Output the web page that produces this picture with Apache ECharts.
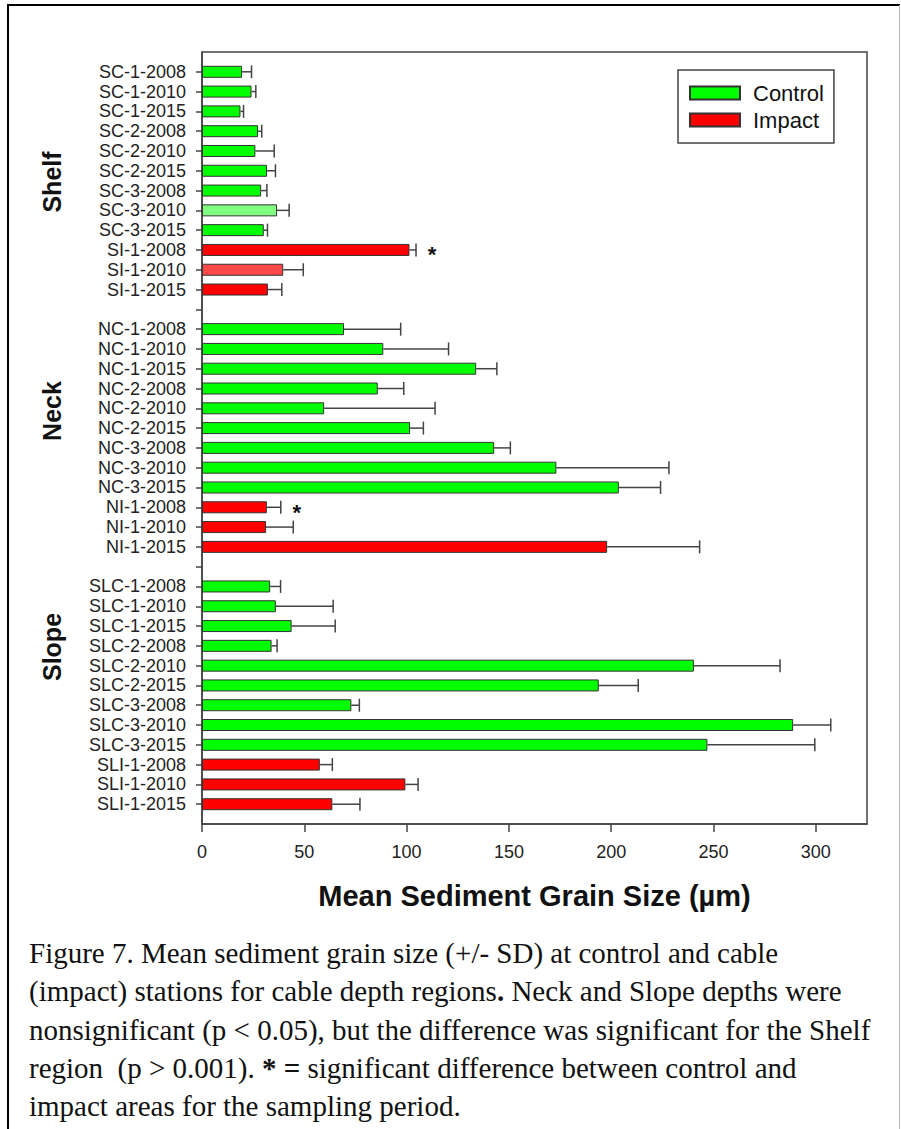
<!DOCTYPE html>
<html>
<head>
<meta charset="utf-8">
<script src="https://cdn.jsdelivr.net/npm/echarts@6/dist/echarts.min.js"></script>
<style>
  html, body { margin: 0; padding: 0; background: #fff; }
  #chart { width: 901px; height: 1129px; }
</style>
</head>
<body>
<div id="chart"></div>
<script>
// Stations per depth region (C = control, I = cable impact), with mean grain size and SD in µm
const shelfStations = ['SC-1-2008','SC-1-2010','SC-1-2015','SC-2-2008','SC-2-2010','SC-2-2015','SC-3-2008','SC-3-2010','SC-3-2015','SI-1-2008','SI-1-2010','SI-1-2015'];
const shelfMeans    = [19.6, 24.2, 18.8, 27.4, 26.1, 31.8, 28.9, 36.7, 30.2, 101.4, 39.7, 32.2];
const shelfSD       = [4.6, 2.1, 1.5, 1.8, 9.2, 4.1, 2.8, 5.9, 1.8, 3.2, 9.8, 6.8];

const neckStations  = ['NC-1-2008','NC-1-2010','NC-1-2015','NC-2-2008','NC-2-2010','NC-2-2015','NC-3-2008','NC-3-2010','NC-3-2015','NI-1-2008','NI-1-2010','NI-1-2015'];
const neckMeans     = [69.4, 88.6, 134.0, 85.9, 59.7, 101.7, 142.8, 173.2, 203.7, 31.7, 31.3, 198.0];
const neckSD        = [27.7, 31.9, 10.1, 12.7, 54.2, 6.5, 7.9, 55.0, 20.4, 6.8, 13.3, 45.2];

const slopeStations = ['SLC-1-2008','SLC-1-2010','SLC-1-2015','SLC-2-2008','SLC-2-2010','SLC-2-2015','SLC-3-2008','SLC-3-2010','SLC-3-2015','SLI-1-2008','SLI-1-2010','SLI-1-2015'];
const slopeMeans    = [33.3, 36.1, 43.8, 34.0, 240.4, 193.9, 73.0, 288.9, 247.0, 57.6, 99.4, 63.7];
const slopeSD       = [5.1, 28.0, 21.3, 2.7, 42.1, 19.3, 3.9, 18.4, 52.5, 6.1, 6.2, 13.5];

const impactStations = ['SI-1-2008','SI-1-2010','SI-1-2015','NI-1-2008','NI-1-2010','NI-1-2015','SLI-1-2008','SLI-1-2010','SLI-1-2015'];
const significant    = ['SI-1-2008','NI-1-2008'];   // marked with *
const paleBars       = ['SC-3-2010','SI-1-2010'];   // drawn in a lighter shade

const regionNames = ['Shelf', 'Neck', 'Slope'];
const xTicks = [0, 50, 100, 150, 200, 250, 300];
const legendNames = ['Control', 'Impact'];

const captionLines = [
  'Figure 7. Mean sediment grain size (+/- SD) at control and cable',
  '(impact) stations for cable depth regions{b|.} Neck and Slope depths were',
  'nonsignificant (p < 0.05), but the difference was significant for the Shelf',
  'region  (p > 0.001). {b|* =} significant difference between control and',
  'impact areas for the sampling period.'
];

// ---- build the category axis: a blank slot at each end and between regions
const groups = [
  [shelfStations, shelfMeans, shelfSD],
  [neckStations, neckMeans, neckSD],
  [slopeStations, slopeMeans, slopeSD]
];
const categories = [];
const rows = []; // {idx, name, mean, sd}
let blank = '';
categories.push(blank);
groups.forEach(([names, means, sds]) => {
  names.forEach((n, k) => {
    rows.push({ idx: categories.length, name: n, mean: means[k], sd: sds[k] });
    categories.push(n);
  });
  blank += ' ';
  categories.push(blank);
});

const GREEN = '#00ff00', RED = '#ff0000';
const PALE = { Control: '#80ff80', Impact: '#ff4848' };
const BORDER = '#333';
const AXIS = '#444';
const FONT = '"Liberation Sans", Arial, sans-serif';

function barData(kind) {
  return categories.map(c => {
    const r = rows.find(x => x.name === c);
    if (!r) return '-';
    const isImpact = impactStations.includes(c);
    if ((kind === 'Impact') !== isImpact) return '-';
    if (paleBars.includes(c)) return { value: r.mean, itemStyle: { color: PALE[kind] } };
    return r.mean;
  });
}

const errData = rows.map(r => [r.idx, r.mean, r.sd, significant.includes(r.name) ? 1 : 0]);

const chart = echarts.init(document.getElementById('chart'), null, { renderer: 'svg' });

const grid = { left: 202, top: 52, width: 665, height: 772 };

// region labels beside the station labels
const regionY = [182, 411, 647];
const graphics = [
  // page frame
  { type: 'line', shape: { x1: 8, y1: 5, x2: 8, y2: 1129 }, style: { stroke: '#000', lineWidth: 2 } },
  { type: 'line', shape: { x1: 7, y1: 5, x2: 900, y2: 5 }, style: { stroke: '#000', lineWidth: 2 } },
  { type: 'line', shape: { x1: 899.5, y1: 5, x2: 899.5, y2: 1129 }, style: { stroke: '#bbb', lineWidth: 1 } }
];
regionNames.forEach((name, i) => {
  graphics.push({
    type: 'text', x: 52, y: regionY[i], rotation: Math.PI / 2,
    style: { text: name, font: 'bold 25px ' + FONT, fill: '#111', align: 'center', verticalAlign: 'middle' }
  });
});
captionLines.forEach((line, i) => {
  graphics.push({
    type: 'text', x: 29, y: 953 + i * 38.3,
    style: {
      text: line, font: '29px "Liberation Serif", "Times New Roman", serif', fill: '#111',
      align: 'left', verticalAlign: 'middle',
      rich: { b: { fontWeight: 'bold', fontSize: 29, fontFamily: '"Liberation Serif", serif' } }
    }
  });
});

chart.setOption({
  animation: false,
  backgroundColor: '#fff',
  textStyle: { fontFamily: FONT },
  grid: Object.assign({ show: true, borderColor: AXIS, borderWidth: 1.5, containLabel: false }, grid),
  legend: {
    data: legendNames,
    orient: 'vertical',
    left: 678, top: 70,
    padding: [12, 10, 12, 11],
    itemWidth: 50, itemHeight: 13, itemGap: 5,
    borderColor: AXIS, borderWidth: 1.5,
    icon: 'rect',
    textStyle: { fontSize: 22, color: '#111', padding: [0, 0, 0, 8], fontFamily: FONT }
  },
  xAxis: {
    type: 'value', min: 0, max: 325,
    splitLine: { show: false },
    axisLine: { show: true, lineStyle: { color: AXIS, width: 1.5 } },
    axisTick: { show: true, length: 8, customValues: xTicks, lineStyle: { color: AXIS, width: 1.5 } },
    axisLabel: { customValues: xTicks, fontSize: 18, color: '#222', margin: 19, fontFamily: FONT },
    name: 'Mean Sediment Grain Size (\u00b5m)',
    nameLocation: 'middle', nameGap: 57,
    nameTextStyle: { fontSize: 29, fontWeight: 'bold', color: '#111', fontFamily: FONT }
  },
  yAxis: {
    type: 'category', data: categories, inverse: true, boundaryGap: false,
    axisLine: { show: true, lineStyle: { color: AXIS, width: 1.5 } },
    axisTick: { show: true, length: 6, interval: (i) => i > 0 && i < categories.length - 1, lineStyle: { color: AXIS, width: 1.5 } },
    axisLabel: { interval: 0, fontSize: 18, color: '#222', margin: 16, fontFamily: FONT },
    splitLine: { show: false }
  },
  graphic: graphics,
  series: [
    {
      name: 'Control', type: 'bar', data: barData('Control'),
      barWidth: 12, barGap: '-100%',
      itemStyle: { color: GREEN, borderColor: BORDER, borderWidth: 1 }
    },
    {
      name: 'Impact', type: 'bar', data: barData('Impact'),
      barWidth: 12, barGap: '-100%',
      itemStyle: { color: RED, borderColor: BORDER, borderWidth: 1 }
    },
    {
      name: 'SD', type: 'custom', z: 3,
      encode: { x: [1, 2], y: 0 },
      data: errData,
      renderItem: (params, api) => {
        const idx = api.value(0), m = api.value(1), s = api.value(2);
        const p0 = api.coord([m, idx]);
        const p1 = api.coord([m + s, idx]);
        const cap = 6.5;
        const lineStyle = { stroke: '#444', lineWidth: 1.5 };
        const children = [
          { type: 'line', shape: { x1: p0[0], y1: p0[1], x2: p1[0], y2: p1[1] }, style: lineStyle },
          { type: 'line', shape: { x1: p1[0], y1: p1[1] - cap, x2: p1[0], y2: p1[1] + cap }, style: lineStyle }
        ];
        if (api.value(3)) {
          children.push({
            type: 'text', x: p1[0] + 16, y: p1[1] + 5,
            style: { text: '*', font: 'bold 22px ' + FONT, fill: '#111', align: 'center', verticalAlign: 'middle' }
          });
        }
        return { type: 'group', children };
      }
    }
  ]
});
</script>
</body>
</html>
